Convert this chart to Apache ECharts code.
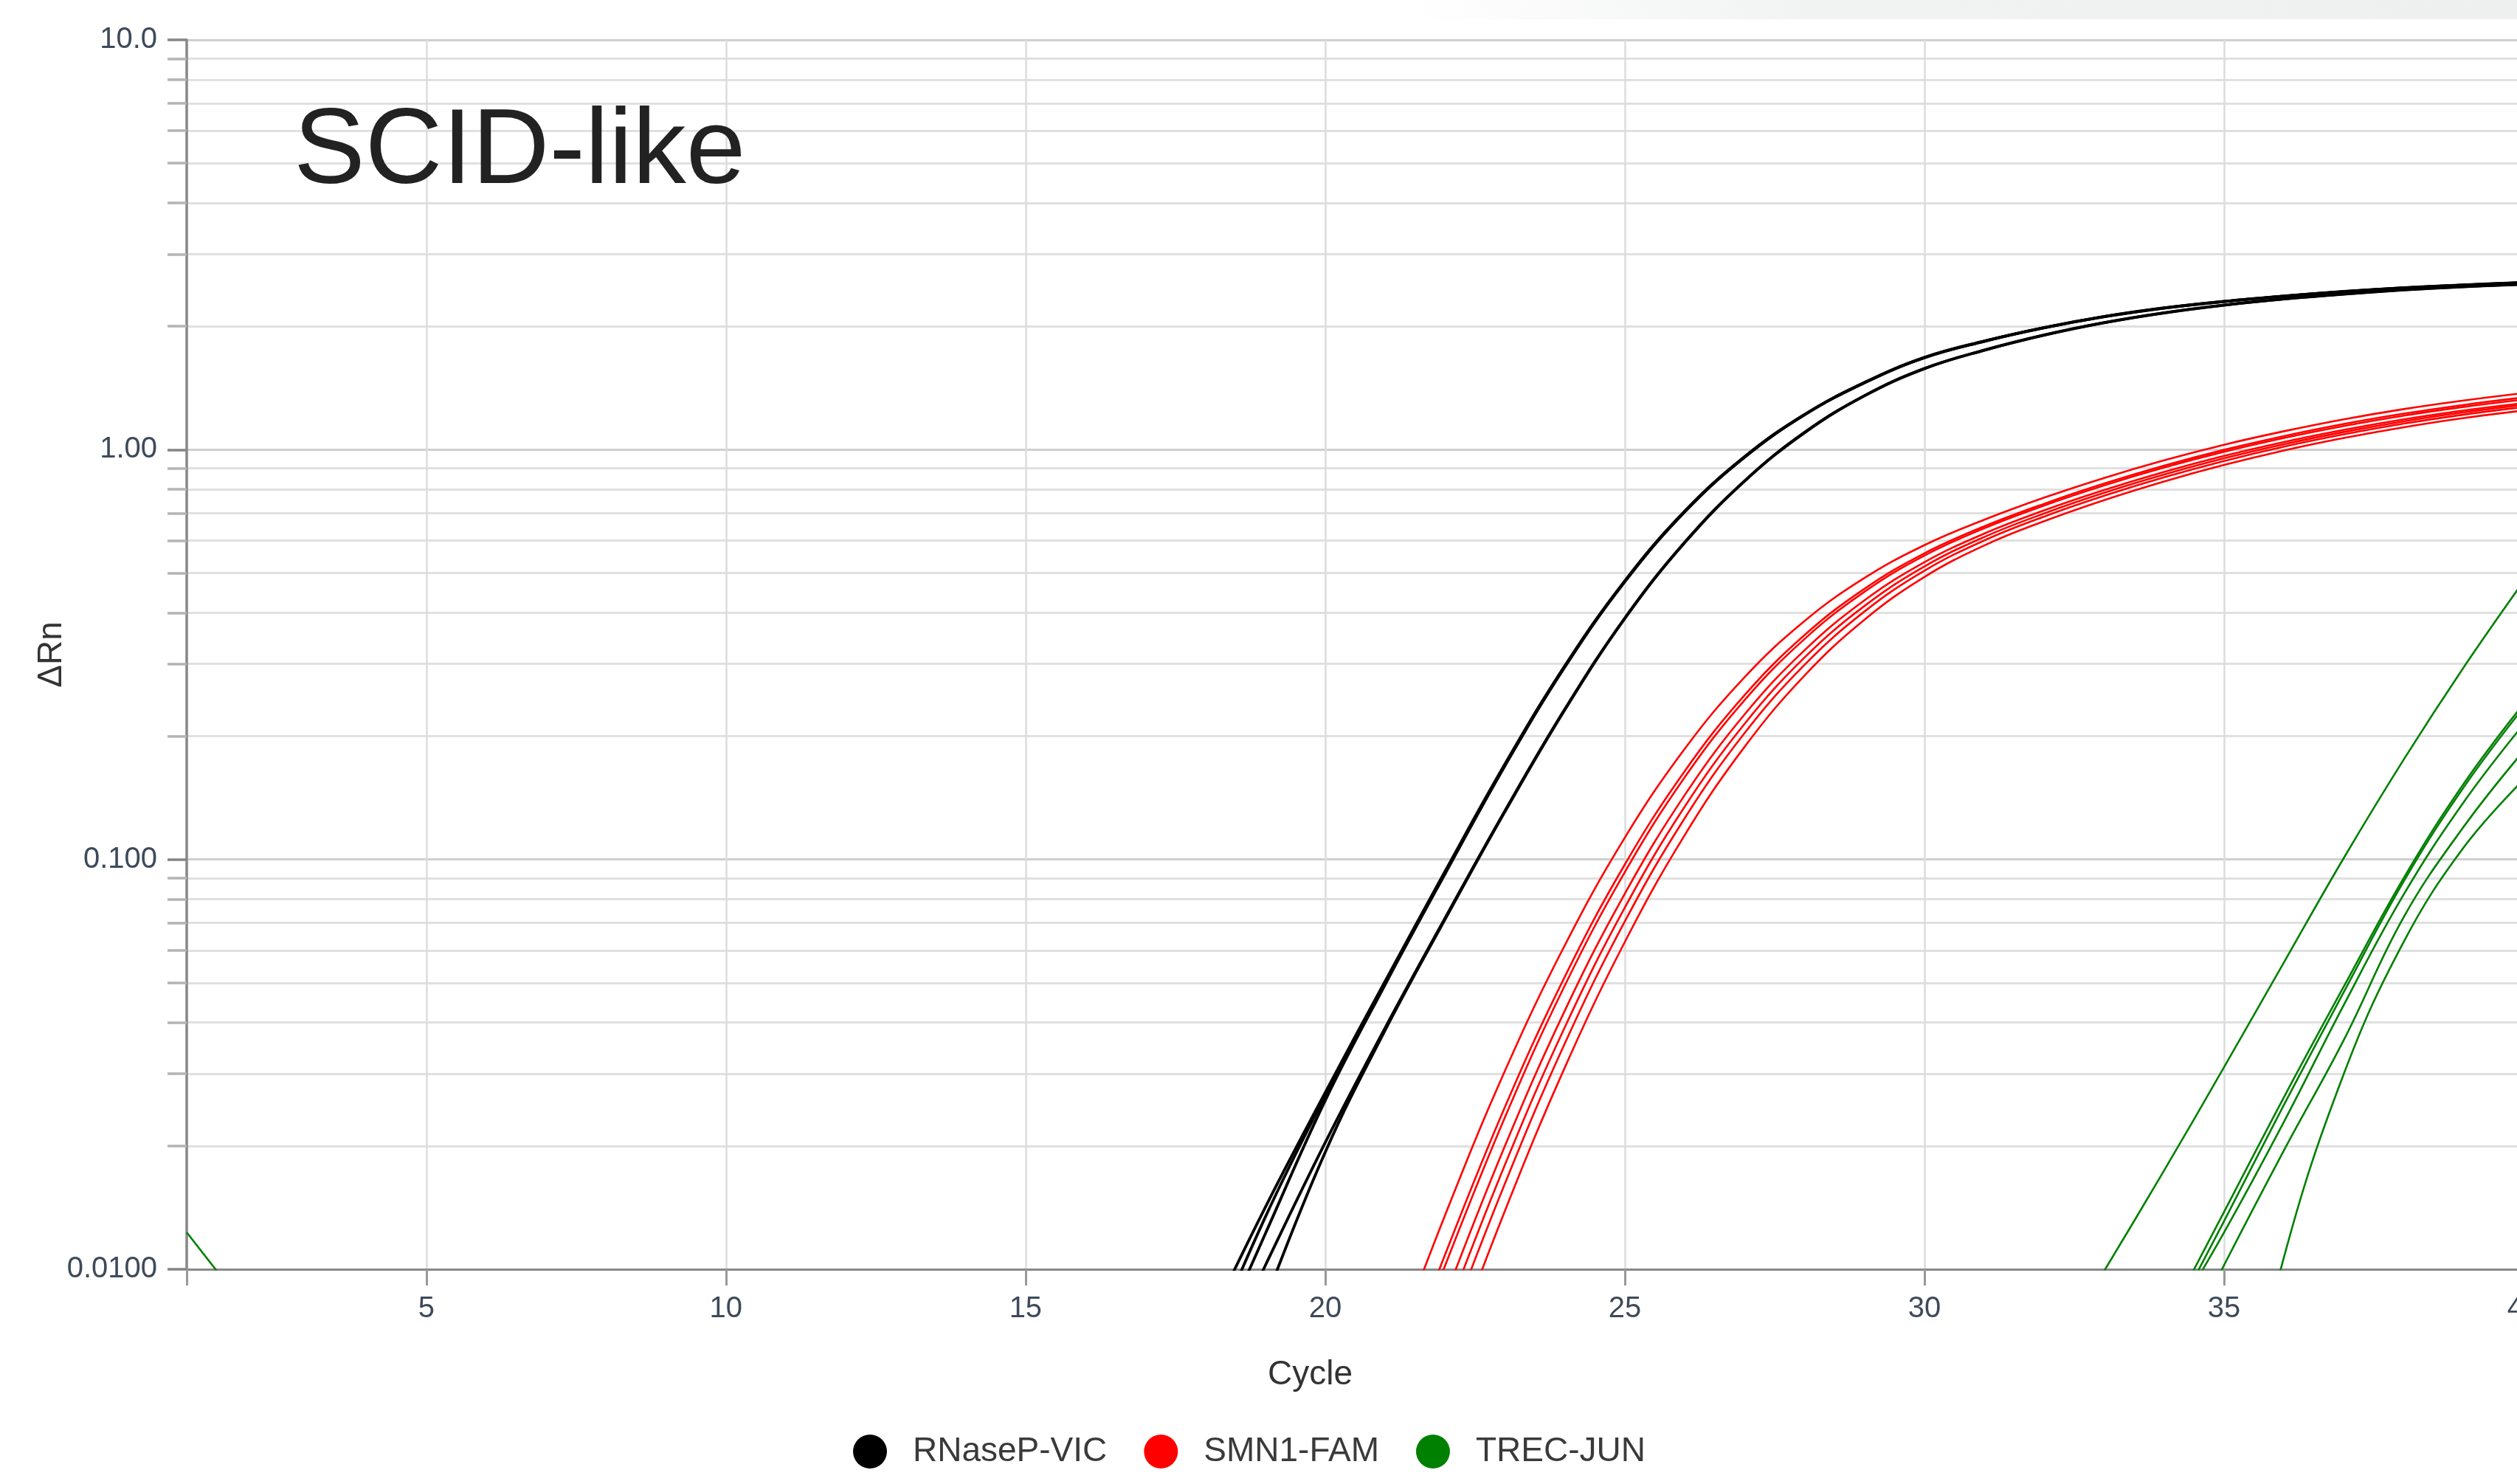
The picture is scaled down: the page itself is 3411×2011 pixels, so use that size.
<!DOCTYPE html>
<html>
<head>
<meta charset="utf-8">
<script src="https://cdn.jsdelivr.net/npm/echarts@6/dist/echarts.min.js"></script>
<style>
html,body{margin:0;padding:0;background:#ffffff;}
#chart{width:3411px;height:2011px;}
</style>
</head>
<body>
<div id="chart"></div>
<script>
// ---------- data ----------
const seriesNames = ['RNaseP-VIC', 'SMN1-FAM', 'TREC-JUN'];
const xTickValues = [1, 5, 10, 15, 20, 25, 30, 35, 40];
const xLabelValues = [5, 10, 15, 20, 25, 30, 35, 40];
const yMajorValues = [0.01, 0.1, 1, 10];
const yTickLabels = ['0.0100', '0.100', '1.00', '10.0'];
const yMinorValues = [0.02, 0.03, 0.04, 0.05, 0.06, 0.07, 0.08, 0.09,
                      0.2, 0.3, 0.4, 0.5, 0.6, 0.7, 0.8, 0.9,
                      2, 3, 4, 5, 6, 7, 8, 9];

// ΔRn per cycle; each curve starts at the cycle given in its *_start constant
const rnaseP1_start = 18;
const rnaseP1 = [0.0071, 0.01416, 0.02698, 0.05047, 0.09354, 0.171, 0.2972, 0.4786, 0.7079, 0.9616, 1.219, 1.459, 1.679, 1.841, 1.986, 2.113, 2.218, 2.301, 2.371, 2.432, 2.483, 2.523, 2.559];
const rnaseP2_start = 18;
const rnaseP2 = [0.00615, 0.0134, 0.0265, 0.0500, 0.0928, 0.1700, 0.2958, 0.4770, 0.7060, 0.9595, 1.217, 1.457, 1.677, 1.839, 1.984, 2.111, 2.216, 2.299, 2.369, 2.430, 2.481, 2.521, 2.557];
const rnaseP3_start = 18;
const rnaseP3 = [0.0057, 0.0122, 0.0258, 0.0495, 0.0922, 0.1693, 0.2950, 0.4760, 0.7050, 0.9585, 1.216, 1.456, 1.676, 1.838, 1.983, 2.110, 2.215, 2.298, 2.368, 2.429, 2.480, 2.520, 2.556];
const rnaseP4_start = 18;
const rnaseP4 = [0.0050, 0.01021, 0.02037, 0.03882, 0.07194, 0.1315, 0.2328, 0.3882, 0.5943, 0.8395, 1.102, 1.355, 1.578, 1.750, 1.905, 2.042, 2.158, 2.254, 2.333, 2.399, 2.455, 2.500, 2.535];
const rnaseP5_start = 19;
const rnaseP5 = [0.00836, 0.0193, 0.0383, 0.0714, 0.1308, 0.2320, 0.3872, 0.5930, 0.8380, 1.100, 1.353, 1.576, 1.748, 1.903, 2.040, 2.156, 2.252, 2.331, 2.397, 2.453, 2.498, 2.533];

const smn1_1_start = 21;
const smn1_1 = [0.00557, 0.01355, 0.0305, 0.0618, 0.113, 0.1862, 0.2786, 0.3819, 0.4864, 0.5848, 0.6745, 0.7638, 0.8531, 0.9419, 1.028, 1.109, 1.186, 1.256, 1.318, 1.374];
const smn1_2_start = 21;
const smn1_2 = [0.00445, 0.01085, 0.0249, 0.0518, 0.0972, 0.1643, 0.2518, 0.3529, 0.4577, 0.5585, 0.650, 0.738, 0.8264, 0.9138, 0.9988, 1.079, 1.155, 1.224, 1.286, 1.341];
const smn1_3_start = 21;
const smn1_3 = [0.00418, 0.0102, 0.0235, 0.0493, 0.0931, 0.1587, 0.2449, 0.3452, 0.450, 0.5513, 0.643, 0.7306, 0.8177, 0.9042, 0.988, 1.0676, 1.1421, 1.2106, 1.2715, 1.3251];
const smn1_4_start = 22;
const smn1_4 = [0.00854, 0.0200, 0.0428, 0.0825, 0.1436, 0.226, 0.324, 0.429, 0.5313, 0.6242, 0.711, 0.797, 0.8823, 0.9654, 1.0442, 1.1178, 1.1858, 1.2463, 1.2992];
const smn1_5_start = 22;
const smn1_5 = [0.0076, 0.0180, 0.039, 0.0763, 0.1346, 0.2144, 0.3112, 0.4156, 0.5188, 0.6124, 0.699, 0.7846, 0.8694, 0.9524, 1.031, 1.1045, 1.1725, 1.233, 1.2863];
const smn1_6_start = 22;
const smn1_6 = [0.00678, 0.0162, 0.0356, 0.0706, 0.1261, 0.2035, 0.2986, 0.4028, 0.5065, 0.6006, 0.6869, 0.7718, 0.8561, 0.9384, 1.017, 1.0899, 1.1574, 1.2176, 1.2706];
const smn1_7_start = 22;
const smn1_7 = [0.00572, 0.01389, 0.0311, 0.0629, 0.1147, 0.1884, 0.2812, 0.3847, 0.4891, 0.5839, 0.6692, 0.7531, 0.8363, 0.9175, 0.9954, 1.0676, 1.1342, 1.1944, 1.2458];

const trec0_start = 1;
const trec0 = [0.0123, 0.0080];
const trec1_start = 32;
const trec1 = [0.0057, 0.00991, 0.01742, 0.03112, 0.0561, 0.1009, 0.1754, 0.2944, 0.4775];
const trec2_start = 34;
const trec2 = [0.00724, 0.0138, 0.0263, 0.049, 0.0902, 0.1531, 0.2399];
const trec3_start = 34;
const trec3 = [0.0069, 0.0131, 0.0252, 0.0475, 0.0885, 0.1500, 0.2350];
const trec4_start = 34;
const trec4 = [0.00692, 0.0123, 0.0229, 0.0442, 0.0822, 0.138, 0.2138];
const trec5_start = 34;
const trec5 = [0.00525, 0.01023, 0.0195, 0.0363, 0.0724, 0.1202, 0.184];
const trec6_start = 35;
const trec6 = [0.0025, 0.0107, 0.030, 0.063, 0.107, 0.1567];

// ---------- helpers ----------
function onCycles(start, values) {
  return values.map(function (v, i) { return [start + i, v]; });
}
const FONT = "'Liberation Sans', Arial, Helvetica, sans-serif";
const COLORS = { 'RNaseP-VIC': '#000000', 'SMN1-FAM': '#ff0000', 'TREC-JUN': '#008000' };
const WIDTHS = { 'RNaseP-VIC': 3.8, 'SMN1-FAM': 2.6, 'TREC-JUN': 2.6 };

function curve(name, start, values) {
  return {
    type: 'line',
    name: name,
    data: onCycles(start, values),
    showSymbol: false,
    symbol: 'none',
    smooth: 0.4,
    clip: true,
    color: COLORS[name],
    lineStyle: { color: COLORS[name], width: WIDTHS[name] },
    itemStyle: { color: COLORS[name] },
    emphasis: { disabled: true },
    animation: false,
    z: 3
  };
}

const series = [
  curve('TREC-JUN', trec0_start, trec0),
  curve('TREC-JUN', trec1_start, trec1),
  curve('TREC-JUN', trec2_start, trec2),
  curve('TREC-JUN', trec3_start, trec3),
  curve('TREC-JUN', trec4_start, trec4),
  curve('TREC-JUN', trec5_start, trec5),
  curve('TREC-JUN', trec6_start, trec6),
  curve('SMN1-FAM', smn1_1_start, smn1_1),
  curve('SMN1-FAM', smn1_2_start, smn1_2),
  curve('SMN1-FAM', smn1_3_start, smn1_3),
  curve('SMN1-FAM', smn1_4_start, smn1_4),
  curve('SMN1-FAM', smn1_5_start, smn1_5),
  curve('SMN1-FAM', smn1_6_start, smn1_6),
  curve('SMN1-FAM', smn1_7_start, smn1_7),
  curve('RNaseP-VIC', rnaseP1_start, rnaseP1),
  curve('RNaseP-VIC', rnaseP2_start, rnaseP2),
  curve('RNaseP-VIC', rnaseP3_start, rnaseP3),
  curve('RNaseP-VIC', rnaseP4_start, rnaseP4),
  curve('RNaseP-VIC', rnaseP5_start, rnaseP5)
];

function yLabel(v) {
  const k = Math.round(Math.log10(v));
  const idx = yMajorValues.findIndex(function (m) { return Math.round(Math.log10(m)) === k; });
  return idx >= 0 ? yTickLabels[idx] : '';
}

const chart = echarts.init(document.getElementById('chart'), null, { renderer: 'canvas' });
chart.setOption({
  animation: false,
  backgroundColor: '#ffffff',
  grid: { left: 253, width: 3167, top: 54, height: 1666, containLabel: false, outerBoundsMode: 'none' },
  legend: {
    data: seriesNames,
    left: 1151,
    top: 1939,
    icon: 'circle',
    itemWidth: 46,
    itemHeight: 46,
    itemGap: 50,
    selectedMode: false,
    textStyle: { fontSize: 46, color: '#3a3a3a', fontFamily: FONT, padding: [0, 0, 0, 30] }
  },
  xAxis: {
    type: 'value',
    min: 1,
    max: 40,
    name: 'Cycle',
    nameLocation: 'middle',
    nameGap: 120,
    nameTextStyle: { fontSize: 46, color: '#333333', fontFamily: FONT, padding: [0, 122, 0, 0] },
    axisLine: { show: true, onZero: false, lineStyle: { color: '#888888', width: 3 } },
    axisTick: { show: true, customValues: xTickValues, length: 22, lineStyle: { color: '#999999', width: 3 } },
    axisLabel: { customValues: xLabelValues, fontSize: 40, color: '#3e4a5a', fontFamily: FONT, margin: 34 },
    splitLine: { show: true, lineStyle: { color: '#dcdcdc', width: 2.5 } }
  },
  yAxis: [
    {
      type: 'log',
      logBase: 10,
      min: 0.01,
      max: 10,
      position: 'left',
      name: 'ΔRn',
      nameLocation: 'middle',
      nameGap: 160,
      nameRotate: 90,
      nameTextStyle: { fontSize: 46, color: '#333333', fontFamily: FONT },
      axisLine: { show: true, onZero: false, lineStyle: { color: '#888888', width: 3.5 } },
      axisTick: { show: true, customValues: yMinorValues, length: 26, lineStyle: { color: '#b4b4b4', width: 3.5 } },
      axisLabel: { show: false },
      splitLine: { show: true, lineStyle: { color: '#e0e0e0', width: 3 } }
    },
    {
      type: 'log',
      logBase: 10,
      min: 0.01,
      max: 10,
      position: 'left',
      offset: 0,
      axisLine: { show: false },
      axisTick: { show: true, customValues: yMajorValues, length: 26, lineStyle: { color: '#858585', width: 3.5 } },
      axisLabel: { customValues: yMajorValues, formatter: yLabel, fontSize: 40, color: '#3e4a5a', fontFamily: FONT, margin: 40 },
      splitLine: { show: true, lineStyle: { color: '#cfcfcf', width: 3 } }
    }
  ],
  graphic: [
    {
      type: 'rect',
      z: -10,
      silent: true,
      shape: { x: 0, y: 0, width: 3411, height: 26 },
      style: {
        fill: new echarts.graphic.LinearGradient(0, 0, 1, 0, [
          { offset: 0, color: 'rgba(240,241,241,0)' },
          { offset: 0.56, color: 'rgba(240,241,241,0)' },
          { offset: 0.72, color: 'rgba(240,241,241,0.9)' },
          { offset: 1, color: 'rgba(238,240,240,1)' }
        ])
      }
    },
    {
      type: 'text',
      z: 10,
      silent: true,
      x: 398,
      y: 208,
      style: {
        text: 'SCID-like',
        font: "145px 'Liberation Sans', Arial, sans-serif",
        fill: '#222222',
        verticalAlign: 'middle',
        align: 'left'
      }
    }
  ],
  series: series
});
</script>
</body>
</html>
